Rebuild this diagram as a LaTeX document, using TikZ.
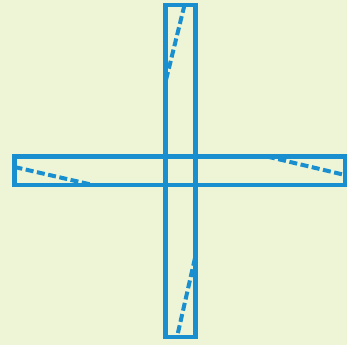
\documentclass[tikz,border=0pt]{standalone}
\definecolor{bg}{HTML}{EEF4D6}
\definecolor{bl}{HTML}{1A8FD0}
\begin{document}
\begin{tikzpicture}[x=1pt,y=-1pt,
  frame/.style={draw=bl,line width=4.2pt},
  dashline/.style={draw=bl,line width=4pt,dash pattern=on 8pt off 3.5pt}]
\fill[bg] (0,0) rectangle (347,345);
\useasboundingbox (0,0) rectangle (347,345);
\coordinate (t1) at (184.5,5);
\coordinate (t2) at (166,80);
\coordinate (b1) at (195,258);
\coordinate (b2) at (177,337);
\coordinate (l1) at (14.5,167);
\coordinate (l2) at (93,185);
\coordinate (r1) at (267,156.5);
\coordinate (r2) at (345,175);
\draw[frame] (165.5,4.8) rectangle (195.5,337);
\draw[frame] (14.5,156.5) rectangle (345,185);
\draw[dashline] (t1) -- (t2);
\draw[dashline] (b1) -- (b2);
\draw[dashline] (l1) -- (l2);
\draw[dashline] (r1) -- (r2);
\end{tikzpicture}
\end{document}
